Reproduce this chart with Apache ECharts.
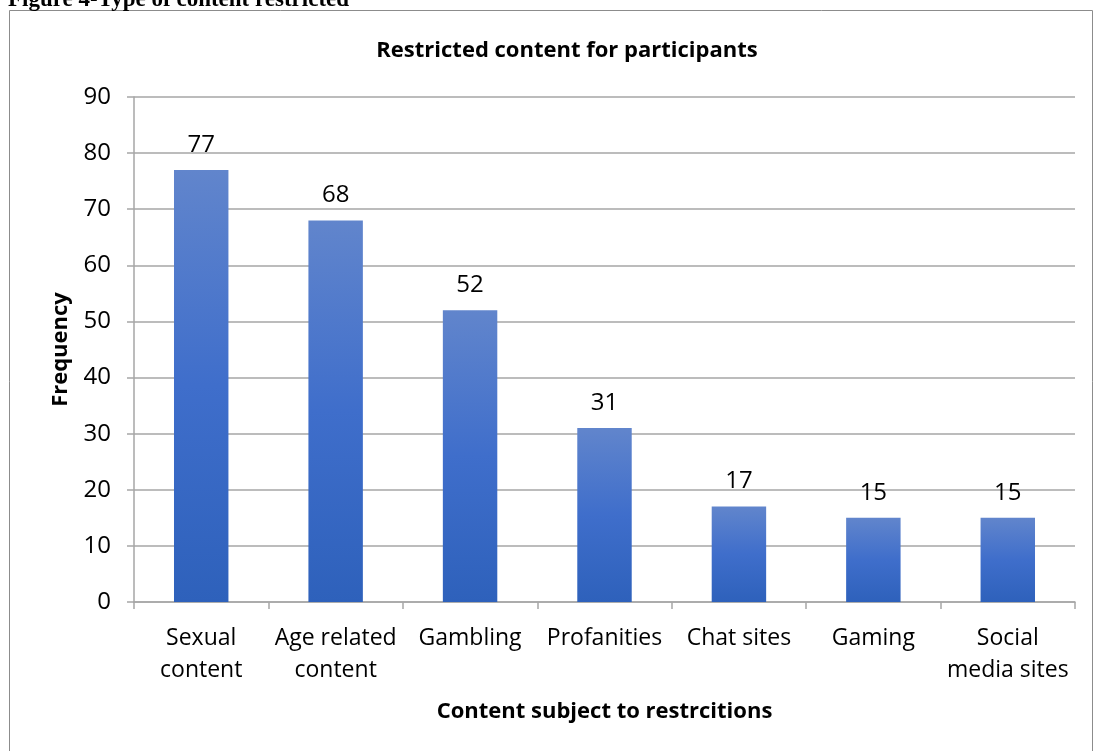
<!DOCTYPE html>
<html><head><meta charset="utf-8">
<script src="https://cdn.jsdelivr.net/npm/echarts@6/dist/echarts.min.js"></script>
<style>html,body{margin:0;padding:0;background:#fff}#c{width:1094px;height:751px}</style>
</head><body><div id="c"></div>
<script>
const categories = ["Sexual\ncontent", "Age related\ncontent", "Gambling", "Profanities", "Chat sites", "Gaming", "Social\nmedia sites"];
const frequency = [77, 68, 52, 31, 17, 15, 15];
const yTicks = { min: 0, max: 90, interval: 10 };

const chart = echarts.init(document.getElementById('c'));
const font = "'Open Sans', 'Noto Sans', sans-serif";
chart.setOption({
  animation: false,
  graphic: [
    { type: 'rect', shape: { x: 9.5, y: 10.5, width: 1083, height: 745 }, style: { fill: 'none', stroke: '#8c8c8c', lineWidth: 1 } },
    { type: 'text', left: 8, top: -11, style: { text: 'Figure 4-Type of content restricted', font: "bold 23px 'Liberation Serif', serif", fill: '#000' } }
  ],
  title: {
    text: 'Restricted content for participants', left: 562, top: 35, textAlign: 'center',
    textStyle: { fontFamily: font, fontWeight: 'bold', fontSize: 22, color: '#000' }
  },
  grid: { left: 134, right: 19, top: 97, bottom: 149 },
  xAxis: {
    type: 'category', data: categories,
    name: 'Content subject to restrcitions', nameLocation: 'middle', nameGap: 99,
    nameTextStyle: { fontFamily: font, fontWeight: 'bold', fontSize: 22, color: '#000' },
    axisLine: { lineStyle: { color: '#a6a6a6', width: 1.5 } },
    axisTick: { show: true, length: 7, lineStyle: { color: '#a6a6a6', width: 1.5 } },
    axisLabel: { fontFamily: font, fontSize: 23, color: '#000', margin: 20, lineHeight: 32, interval: 0 }
  },
  yAxis: {
    type: 'value', min: yTicks.min, max: yTicks.max, interval: yTicks.interval,
    name: 'Frequency', nameLocation: 'middle', nameGap: 62, nameRotate: 90,
    nameTextStyle: { fontFamily: font, fontWeight: 'bold', fontSize: 22, color: '#000' },
    axisLine: { show: true, lineStyle: { color: '#a6a6a6', width: 1.5 } },
    axisTick: { show: true, length: 7, lineStyle: { color: '#a6a6a6', width: 1.5 } },
    splitLine: { lineStyle: { color: '#a6a6a6', width: 1.5 } },
    axisLabel: { fontFamily: font, fontSize: 24, color: '#000', margin: 23 }
  },
  series: [{
    type: 'bar', data: frequency, barWidth: '40.5%',
    itemStyle: {
      color: new echarts.graphic.LinearGradient(0, 0, 0, 1, [
        { offset: 0, color: '#6185cc' },
        { offset: 0.5, color: '#3f6ecb' },
        { offset: 1, color: '#2e61bb' }
      ])
    },
    label: { show: true, position: 'top', distance: 13, fontFamily: font, fontSize: 24, color: '#000' }
  }]
});
</script></body></html>
